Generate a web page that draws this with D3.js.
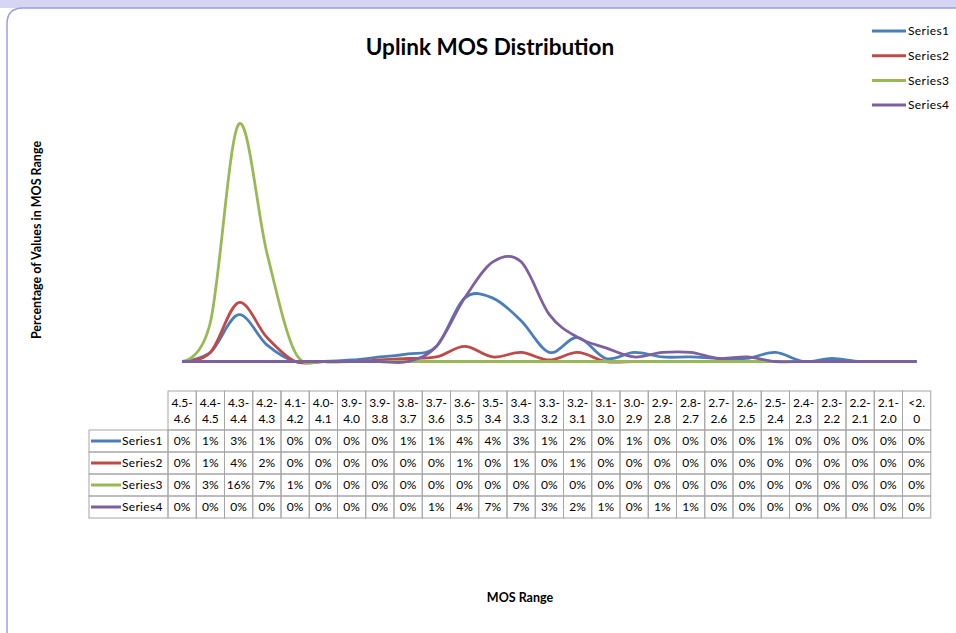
<!DOCTYPE html>
<html>
<head>
<meta charset="utf-8">
<script src="https://cdn.jsdelivr.net/npm/d3@7"></script>
<style>
  body { margin: 0; background: #fff; }
  svg { display: block; font-family: Lato, "Liberation Sans", sans-serif; }
</style>
</head>
<body>
<svg id="drawing_region"></svg>
<script>
// MOS ranges (table columns / x categories)
const categories = ['4.5-4.6','4.4-4.5','4.3-4.4','4.2-4.3','4.1-4.2','4.0-4.1','3.9-4.0','3.9-3.8','3.8-3.7',
    '3.7-3.6','3.6-3.5','3.5-3.4','3.4-3.3','3.3-3.2','3.2-3.1','3.1-3.0','3.0-2.9','2.9-2.8','2.8-2.7',
    '2.7-2.6','2.6-2.5','2.5-2.4','2.4-2.3','2.3-2.2','2.2-2.1','2.1-2.0','<2.0'];

const seriesNames = ['Series1','Series2','Series3','Series4'];
const seriesColors = ['#4a7ebb','#be4b48','#98b954','#7d60a0'];

// percentages
const series1 = [0,0.6,3.1,1.1,0,0,0.1,0.3,0.5,1.0,4.2,4.2,2.7,0.6,1.6,0.2,0.6,0.3,0.3,0.2,0.2,0.6,0,0.2,0,0,0];
const series2 = [0,0.6,3.9,1.6,0,0,0,0.1,0.2,0.3,1.0,0.3,0.6,0.1,0.6,0,0,0,0,0,0,0,0,0,0,0,0];
const series3 = [0,2.6,15.7,7.2,0.6,0,0,0,0,0,0,0,0,0,0,0,0,0,0,0,0,0,0,0,0,0,0];
const series4 = [0,0,0,0,0,0,0,0,0,1.0,4.2,6.6,6.6,3.1,1.6,0.9,0.3,0.6,0.6,0.2,0.3,0,0,0,0,0,0];

const allSeries = [series1, series2, series3, series4];

class LineTableChart {

    constructor( config ) {
        this.config = config;
        this.init();
    }

    init() {
        let self = this;

        self.svg = d3.select( self.config.parent )
            .attr('width', self.config.width)
            .attr('height', self.config.height);

        // frame
        self.svg.append('rect')
            .attr('x', 0).attr('y', 0)
            .attr('width', self.config.width).attr('height', 8)
            .attr('fill', '#d6d6f4');
        self.svg.append('path')
            .attr('d', `M7,${self.config.height} L7,24 Q7,8 23,8 L${self.config.width},8`)
            .attr('fill', 'none')
            .attr('stroke', '#9d9de0')
            .attr('stroke-width', 1.5);

        self.xscale = d3.scaleBand()
            .domain( categories )
            .range( [self.config.table.left, self.config.table.left + categories.length * self.config.table.colWidth] );

        self.yscale = d3.scaleLinear()
            .domain( [0, 16] )
            .range( [self.config.baseline, self.config.baseline - 16 * self.config.pxPerPct] );

        self.svg.append('text')
            .style('font-size', '22.5px')
            .style('font-weight', 'bold')
            .attr('text-anchor', 'middle')
            .attr('x', 490)
            .attr('y', 55)
            .text( self.config.title );

        self.svg.append('text')
            .style('font-size', '12.5px')
            .style('font-weight', 'bold')
            .attr('text-anchor', 'middle')
            .attr('transform', `translate(41, 240) rotate(-90)`)
            .text( self.config.ylabel );

        self.svg.append('text')
            .style('font-size', '12.5px')
            .style('font-weight', 'bold')
            .attr('text-anchor', 'middle')
            .attr('x', 520)
            .attr('y', 602)
            .text( self.config.xlabel );
    }

    render() {
        let self = this;
        const cx = d => self.xscale(d) + self.xscale.bandwidth() / 2;

        const line = d3.line()
            .x( (d, i) => cx(categories[i]) )
            .y( d => self.yscale(d) )
            .curve( d3.curveCardinal.tension(0) );

        self.svg.append('g')
            .selectAll('path')
            .data(allSeries)
            .join('path')
            .attr('d', d => line(d))
            .attr('fill', 'none')
            .attr('stroke', (d, i) => seriesColors[i])
            .attr('stroke-width', 2.8)
            .attr('stroke-linejoin', 'round');

        // legend
        const legend = self.svg.append('g')
            .selectAll('g')
            .data(seriesNames)
            .join('g')
            .attr('transform', (d, i) => `translate(872, ${31 + i * 24.7})`);
        legend.append('line')
            .attr('x1', 0).attr('x2', 34)
            .attr('stroke', (d, i) => seriesColors[i])
            .attr('stroke-width', 3);
        legend.append('text')
            .attr('x', 36).attr('dy', '0.35em')
            .style('font-size', '12px')
            .style('letter-spacing', '0.4px')
            .text(d => d);

        self.renderTable();
    }

    renderTable() {
        let self = this;
        const t = self.config.table;
        const g = self.svg.append('g');
        const gridColor = '#a6a6a6';

        // header cells
        g.selectAll('.hcell')
            .data(categories)
            .join('rect')
            .attr('x', d => self.xscale(d))
            .attr('y', t.top)
            .attr('width', self.xscale.bandwidth())
            .attr('height', t.headHeight)
            .attr('fill', 'none')
            .attr('stroke', gridColor);

        const wrap = s => s.length > 4 ? [s.slice(0, 4), s.slice(4)] : [s.slice(0, 3), s.slice(3)];
        const head = g.selectAll('.htext')
            .data(categories)
            .join('text')
            .attr('text-anchor', 'middle')
            .style('font-size', '12px');
        head.selectAll('tspan')
            .data(d => wrap(d).map(s => ({ s: s, x: self.xscale(d) + self.xscale.bandwidth() / 2 })))
            .join('tspan')
            .attr('x', d => d.x)
            .attr('y', (d, i) => t.top + 16 + i * 16)
            .text(d => d.s);

        // body rows
        const rowTop = t.top + t.headHeight;
        const rows = g.selectAll('.row')
            .data(allSeries)
            .join('g')
            .attr('transform', (d, i) => `translate(0, ${rowTop + i * t.rowHeight})`);

        rows.append('rect')
            .attr('x', t.keyLeft)
            .attr('width', t.left - t.keyLeft)
            .attr('height', t.rowHeight)
            .attr('fill', 'none')
            .attr('stroke', gridColor);
        rows.append('line')
            .attr('x1', t.keyLeft + 2).attr('x2', t.keyLeft + 32)
            .attr('y1', t.rowHeight / 2).attr('y2', t.rowHeight / 2)
            .attr('stroke', (d, i) => seriesColors[i])
            .attr('stroke-width', 3);
        rows.append('text')
            .attr('x', t.keyLeft + 33)
            .attr('y', t.rowHeight / 2)
            .attr('dy', '0.35em')
            .style('font-size', '12px')
            .style('letter-spacing', '0.3px')
            .text((d, i) => seriesNames[i]);

        rows.selectAll('.cell')
            .data(d => d.map((v, j) => ({ v: v, c: categories[j] })))
            .join('rect')
            .attr('x', d => self.xscale(d.c))
            .attr('width', self.xscale.bandwidth())
            .attr('height', t.rowHeight)
            .attr('fill', 'none')
            .attr('stroke', gridColor);

        rows.selectAll('.val')
            .data(d => d.map((v, j) => ({ v: v, c: categories[j] })))
            .join('text')
            .attr('x', d => self.xscale(d.c) + self.xscale.bandwidth() / 2)
            .attr('y', t.rowHeight / 2)
            .attr('dy', '0.35em')
            .attr('text-anchor', 'middle')
            .style('font-size', '12px')
            .text(d => Math.round(d.v) + '%');
    }
}

const config = {
    parent: '#drawing_region',
    width: 956,
    height: 633,
    title: 'Uplink MOS Distribution',
    xlabel: 'MOS Range',
    ylabel: 'Percentage of Values in MOS Range',
    baseline: 361.5,
    pxPerPct: 15.1,
    table: { left: 168, colWidth: 28.25, top: 391, headHeight: 39, rowHeight: 22, keyLeft: 89 }
};

const chart = new LineTableChart( config );
chart.render();
</script>
</body>
</html>
